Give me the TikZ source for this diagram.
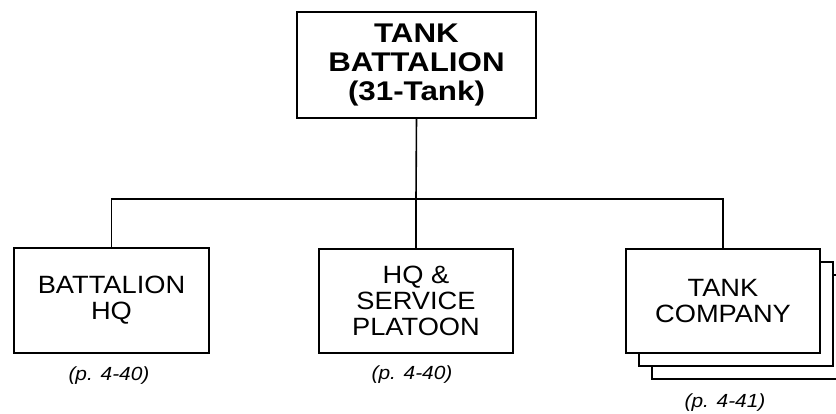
\documentclass[tikz,border=0pt]{standalone}
\usepackage{fontspec}
\setmainfont{Liberation Sans}
\newfontfamily\regwide[FakeStretch=1.09]{Liberation Sans}
\newfontfamily\boldwide[FakeStretch=1.16]{Liberation Sans Bold}
\newfontfamily\italwide[FakeStretch=1.1]{Liberation Sans Italic}
\begin{document}
\begin{tikzpicture}[x=1pt,y=-1pt,
  box/.style={draw, line width=2.1pt, fill=white, inner sep=0pt, outer sep=0pt, align=center,
    minimum width=194pt, minimum height=104pt, font=\regwide\fontsize{25}{26}\selectfont},
  topbox/.style={box, minimum width=239pt, minimum height=106pt, font=\boldwide\fontsize{27}{29}\selectfont},
  conn/.style={line width=1.6pt},
  pagelabel/.style={font=\italwide\fontsize{19}{20}\selectfont, inner sep=0pt}]
\useasboundingbox (0,0) rectangle (836,413);
\clip (0,0) rectangle (836,413);
\node[topbox] (top) at (416.5,65) {TANK\\BATTALION\\(31-Tank)};
\node[box, minimum width=195pt, minimum height=105pt] (left) at (111.5,300.5) {BATTALION\\HQ};
\node[box] (mid) at (416,301) {HQ \&\\SERVICE\\PLATOON};
\node[box] (back2) at (749,327) {};
\node[box] (back1) at (736,314) {};
\node[box] (right) at (723,301) {TANK\\COMPANY};
\coordinate (bus) at (416,199);
\draw[conn] (top.south) -- (bus);
\draw[conn] (left.north) |- (bus) -| (right.north);
\draw[conn] (bus) -- (mid.north);
\node[pagelabel] (lp) at (109,376) {(p. 4-40)};
\node[pagelabel] (mp) at (412,375) {(p. 4-40)};
\node[pagelabel] (rp) at (725,403) {(p. 4-41)};
\end{tikzpicture}
\end{document}
